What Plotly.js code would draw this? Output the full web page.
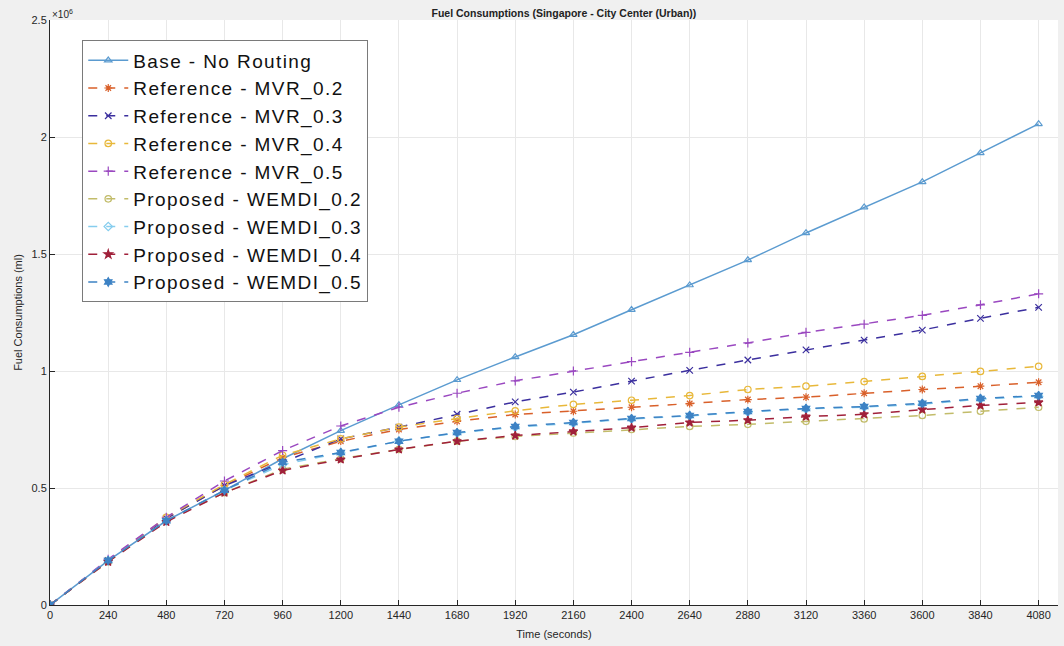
<!DOCTYPE html>
<html>
<head>
<meta charset="utf-8">
<script src="https://cdn.plot.ly/plotly-3.0.1.min.js"></script>
<style>html,body{margin:0;padding:0;background:#f0f0f0;}#chart{width:1064px;height:646px;}</style>
</head>
<body>
<div id="chart"></div>
<script>
// Time (seconds)
const timeSec = [0,240,480,720,960,1200,1440,1680,1920,2160,2400,2640,2880,3120,3360,3600,3840,4080];
// Fuel consumption values in units of 1e6 ml
const baseNoRouting = [0,0.19,0.36,0.49,0.625,0.745,0.855,0.962,1.06,1.155,1.262,1.367,1.474,1.59,1.70,1.808,1.932,2.056];
const mvr02 = [0,0.19,0.37,0.51,0.63,0.70,0.75,0.785,0.814,0.828,0.845,0.861,0.878,0.888,0.905,0.921,0.935,0.952];
const mvr03 = [0,0.19,0.37,0.51,0.61,0.71,0.76,0.815,0.868,0.91,0.957,1.003,1.047,1.09,1.132,1.175,1.225,1.272];
const mvr04 = [0,0.19,0.375,0.515,0.64,0.71,0.76,0.797,0.83,0.857,0.875,0.895,0.921,0.935,0.955,0.977,0.998,1.02];
const mvr05 = [0,0.195,0.375,0.53,0.66,0.765,0.845,0.905,0.958,1.0,1.04,1.08,1.12,1.165,1.20,1.238,1.283,1.33];
const wemdi02 = [0,0.185,0.36,0.48,0.58,0.625,0.665,0.70,0.72,0.735,0.75,0.763,0.772,0.785,0.795,0.81,0.828,0.845];
const wemdi03 = [0,0.19,0.36,0.49,0.60,0.65,0.70,0.735,0.76,0.777,0.795,0.808,0.825,0.838,0.846,0.858,0.88,0.892];
const wemdi04 = [0,0.185,0.355,0.48,0.575,0.622,0.665,0.70,0.724,0.742,0.758,0.78,0.79,0.805,0.815,0.835,0.853,0.866];
const wemdi05 = [0,0.19,0.36,0.49,0.61,0.652,0.70,0.737,0.763,0.78,0.797,0.81,0.827,0.84,0.848,0.862,0.883,0.895];

const seriesNames = ['Base - No Routing','Reference - MVR_0.2','Reference - MVR_0.3','Reference - MVR_0.4','Reference - MVR_0.5','Proposed - WEMDI_0.2','Proposed - WEMDI_0.3','Proposed - WEMDI_0.4','Proposed - WEMDI_0.5'];
const seriesData = [baseNoRouting, mvr02, mvr03, mvr04, mvr05, wemdi02, wemdi03, wemdi04, wemdi05];
const colors = ['#5b9bd0','#d9602a','#3b2f9e','#e8b83a','#9a48c0','#c2bc6a','#86cdee','#a0203a','#3d82c4'];
const symbols = ['triangle-up-open','asterisk-open','x-thin-open','circle-open','cross-thin-open','circle-open','diamond-open','star','hexagram'];
const dashes = ['solid','dash','dash','dash','dash','dash','dash','dash','dash'];

const xTicks = timeSec;
const yTickVals = [0,0.5,1,1.5,2,2.5];
const yTickText = ['0','0.5','1','1.5','2','2.5'];

const traces = seriesNames.map((n,i)=>({
  x: timeSec, y: seriesData[i],
  name: '<span style="letter-spacing:1.4px">' + n + '</span>',
  type:'scatter', mode:'lines+markers',
  line:{color:colors[i], width:1.5, dash:dashes[i]},
  marker:{symbol:symbols[i], size:6.5, color:colors[i], line:{color:colors[i], width:1.2}}
}));

const font = 'Liberation Sans, Arial, sans-serif';
const layout = {
  width:1064, height:646,
  paper_bgcolor:'#f0f0f0', plot_bgcolor:'#ffffff',
  margin:{l:50, r:6, t:20, b:41},
  font:{family:font, size:11, color:'#262626'},
  title:{text:'<b>Fuel Consumptions (Singapore - City Center (Urban))</b>', font:{size:10.5, family:font, color:'#222'}, x:0.53, xanchor:'center', y:0.985, yanchor:'top'},
  xaxis:{range:[0,4160], tickvals:xTicks, ticktext:xTicks.map(String), ticks:'inside', ticklen:5, tickcolor:'#262626',
    showline:true, linecolor:'#262626', linewidth:1, showgrid:true, gridcolor:'#e8e8e8', zeroline:false,
    tickfont:{size:11}, title:{text:'Time (seconds)', font:{size:11}, standoff:10}},
  yaxis:{range:[0,2.5], tickvals:yTickVals, ticktext:yTickText, ticks:'inside', ticklen:5, tickcolor:'#262626',
    showline:true, linecolor:'#262626', linewidth:1, showgrid:true, gridcolor:'#e8e8e8', zeroline:false,
    tickfont:{size:11}, title:{text:'Fuel Consumptions (ml)', font:{size:11}, standoff:6}},
  legend:{x:0.032, y:0.965, xanchor:'left', yanchor:'top', bgcolor:'#ffffff', bordercolor:'#7a7a7a', borderwidth:1,
    font:{size:19, family:font, color:'#111'}, tracegroupgap:0, itemwidth:40},
  showlegend:true,
  annotations:[{xref:'paper', yref:'paper', x:0, y:1, xanchor:'left', yanchor:'bottom', showarrow:false,
    text:'×10<sup>6</sup>', font:{size:10, color:'#262626'}, yshift:-2}]
};
Plotly.newPlot('chart', traces, layout, {displayModeBar:false, staticPlot:true});
</script>
</body>
</html>
